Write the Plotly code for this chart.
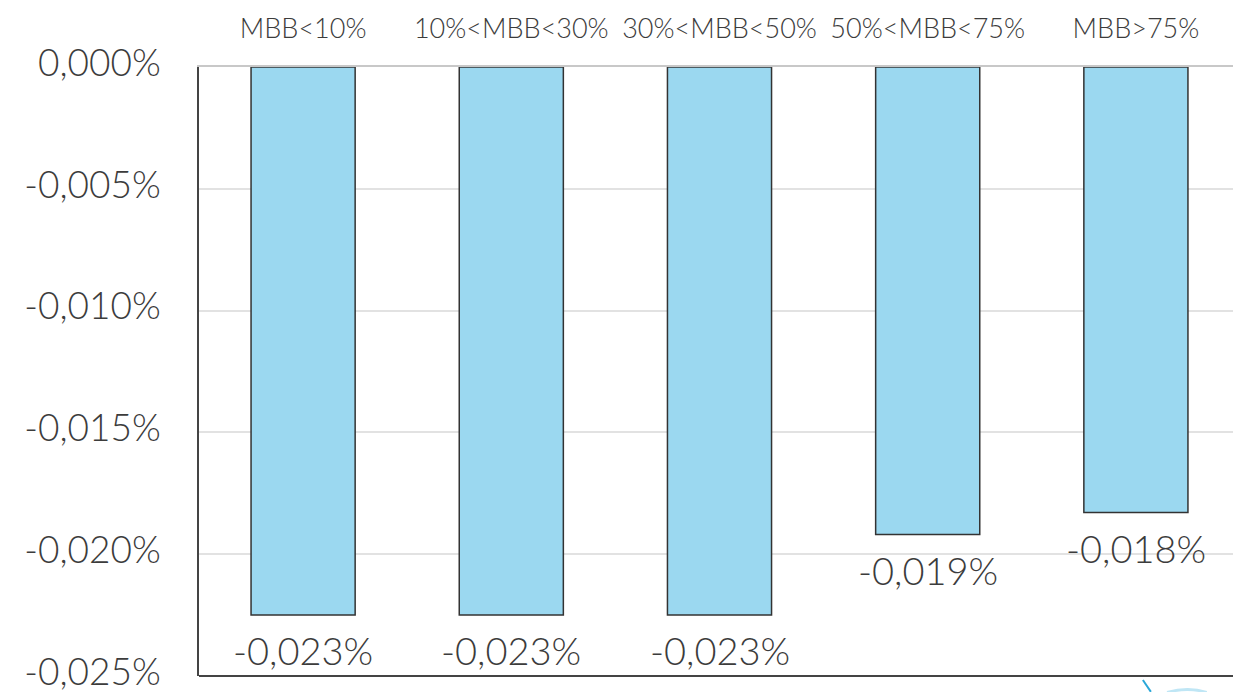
import plotly.graph_objects as go

categories = ["MBB<10%", "10%<MBB<30%", "30%<MBB<50%", "50%<MBB<75%", "MBB>75%"]
values = [-0.0225, -0.0225, -0.0225, -0.0192, -0.0183]
value_labels = ["-0,023%", "-0,023%", "-0,023%", "-0,019%", "-0,018%"]
y_ticks = [0, -0.005, -0.010, -0.015, -0.020, -0.025]
y_tick_labels = ["0,000%", "-0,005%", "-0,010%", "-0,015%", "-0,020%", "-0,025%"]

FONT = "Lato"
TEXT = "#3c3c3c"

fig = go.Figure()
fig.add_trace(go.Bar(
    x=categories,
    y=values,
    cliponaxis=False,
    width=0.5,
    marker=dict(color="#9BD8F0", line=dict(color="#333333", width=1.5)),
    hoverinfo="skip",
))

annotations = [
    dict(x=c, y=v, text=t, xref="x", yref="y", showarrow=False,
         yanchor="middle", xanchor="center", yshift=-35,
         font=dict(family=FONT, size=38, color=TEXT, weight=300))
    for c, v, t in zip(categories, values, value_labels)
]

fig.update_layout(
    width=1233, height=684,
    margin=dict(l=191, r=1, t=59, b=16),
    paper_bgcolor="white",
    plot_bgcolor="white",
    showlegend=False,
    font=dict(family=FONT, color=TEXT),
    annotations=annotations,
    xaxis=dict(
        side="top",
        type="category",
        automargin=False,
        tickfont=dict(family=FONT, size=27, color=TEXT, weight=300),
        showline=True, linecolor="#c8c8c8", linewidth=1.5,
        ticks="outside", ticklen=16, tickcolor="rgba(0,0,0,0)",
        showgrid=False,
    ),
    yaxis=dict(
        range=[-0.02501, 0],
        automargin=False,
        ticklabeloverflow="allow",
        ticklabelshift=-4,
        tickvals=y_ticks,
        ticktext=y_tick_labels,
        tickfont=dict(family=FONT, size=37, color=TEXT, weight=300),
        showgrid=True, gridcolor="#e2e2e2", gridwidth=1.5,
        zeroline=False,
        showline=True, linecolor="#444444", linewidth=1.5,
        ticks="outside", ticklen=29, tickcolor="rgba(0,0,0,0)",
    ),
    shapes=[
        dict(type="line", xref="paper", yref="paper", x0=0, x1=1, y0=0, y1=0,
             line=dict(color="#444444", width=2)),
        dict(type="line", xref="paper", yref="paper", x0=1, x1=1, y0=0, y1=1,
             line=dict(color="#c8c8c8", width=1.5)),
        dict(type="line", xref="paper", yref="paper", x0=0.9067, x1=0.9144,
             y0=-0.0066, y1=-0.026, line=dict(color="#2aa7d8", width=2)),
        dict(type="path", xref="paper", yref="paper",
             path="M 0.93 -0.027 Q 0.95 -0.017 0.968 -0.027",
             line=dict(color="#bfe6f5", width=3)),
    ],
)

fig.write_html("out.html")
